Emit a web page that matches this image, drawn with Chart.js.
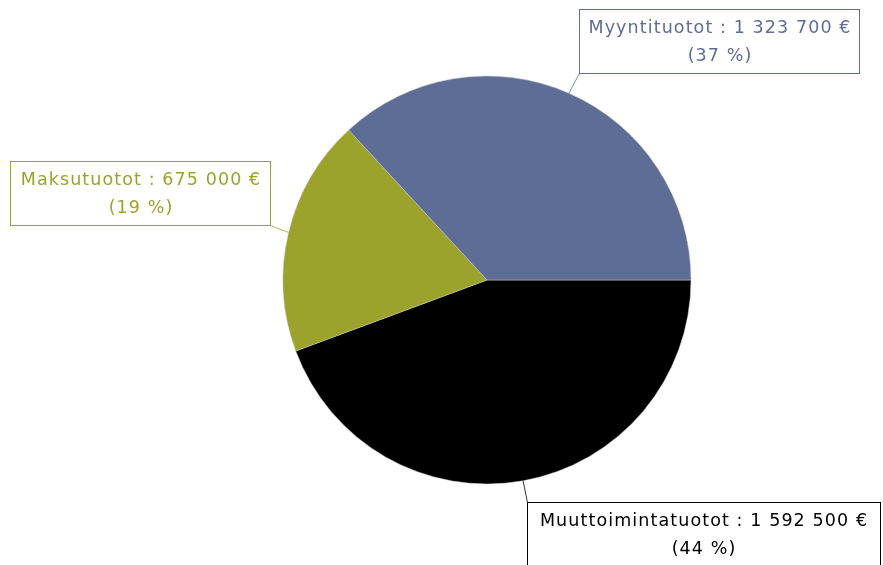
<!DOCTYPE html>
<html>
<head>
<meta charset="utf-8">
<script src="https://cdn.jsdelivr.net/npm/chart.js@4"></script>
<style>
  html, body { margin: 0; padding: 0; background: #ffffff; }
  #wrap { width: 883px; height: 565px; }
</style>
</head>
<body>
<div id="wrap"><canvas id="myChart" width="883" height="565"></canvas></div>
<script>
// Slices, clockwise from 3 o'clock
var categories = ['Muuttoimintatuotot', 'Maksutuotot', 'Myyntituotot'];
var values = [1592500, 675000, 1323700];
var colors = ['#000000', '#9ba32d', '#5e6d95'];

// Label boxes: center x, center y, width (layout only)
var boxes = [[703, 534, 353], [140, 193, 260], [719, 41, 280]];

function formatEuro(v) {
  return String(v).replace(/\B(?=(\d{3})+(?!\d))/g, ' ') + ' €';
}

var total = values.reduce(function (a, b) { return a + b; }, 0);

var calloutPlugin = {
  id: 'callouts',
  afterDraw: function (chart) {
    var ctx = chart.ctx;
    var meta = chart.getDatasetMeta(0);
    ctx.save();
    ctx.font = '17.5px "DejaVu Sans"';
    ctx.letterSpacing = '1.1px';
    ctx.textAlign = 'center';
    ctx.textBaseline = 'middle';
    for (var i = 0; i < meta.data.length; i++) {
      var arc = meta.data[i];
      var mid = (arc.startAngle + arc.endAngle) / 2;
      var ax = arc.x + Math.cos(mid) * arc.outerRadius;
      var ay = arc.y + Math.sin(mid) * arc.outerRadius;

      var line1 = categories[i] + ' : ' + formatEuro(values[i]);
      var line2 = '(' + Math.round(values[i] / total * 100) + ' %)';
      var w = boxes[i][2];
      var h = 64;
      var cx = boxes[i][0], cy = boxes[i][1];
      var x0 = Math.round(cx - w / 2) + 0.5, y0 = Math.round(cy - h / 2) + 0.5;

      // leader line to nearest corner
      var corners = [[x0, y0], [x0 + w, y0], [x0, y0 + h], [x0 + w, y0 + h]];
      var best = corners[0], bd = Infinity;
      corners.forEach(function (c) {
        var d = (c[0] - ax) * (c[0] - ax) + (c[1] - ay) * (c[1] - ay);
        if (d < bd) { bd = d; best = c; }
      });
      ctx.strokeStyle = colors[i];
      ctx.globalAlpha = 0.8;
      ctx.lineWidth = 1;
      ctx.beginPath();
      ctx.moveTo(ax, ay);
      ctx.lineTo(best[0], best[1]);
      ctx.stroke();
      ctx.globalAlpha = 1;

      ctx.fillStyle = '#ffffff';
      ctx.fillRect(x0, y0, w, h);
      ctx.strokeStyle = colors[i];
      ctx.strokeRect(x0, y0, w, h);

      ctx.fillStyle = colors[i];
      ctx.fillText(line1, cx + 1, cy - 13);
      ctx.fillText(line2, cx + 1, cy + 15);
    }
    ctx.restore();
  }
};

var chart = new Chart(document.getElementById('myChart'), {
  type: 'pie',
  data: {
    labels: categories,
    datasets: [{
      data: values,
      backgroundColor: colors,
      borderColor: '#c8c8c8',
      borderWidth: 0.5,
      radius: 204
    }]
  },
  options: {
    responsive: false,
    animation: false,
    events: [],
    rotation: 90,
    layout: {
      padding: { top: 76, bottom: 81, left: 283, right: 192 }
    },
    plugins: {
      legend: { display: false },
      tooltip: { enabled: false }
    }
  },
  plugins: [calloutPlugin]
});
</script>
</body>
</html>
